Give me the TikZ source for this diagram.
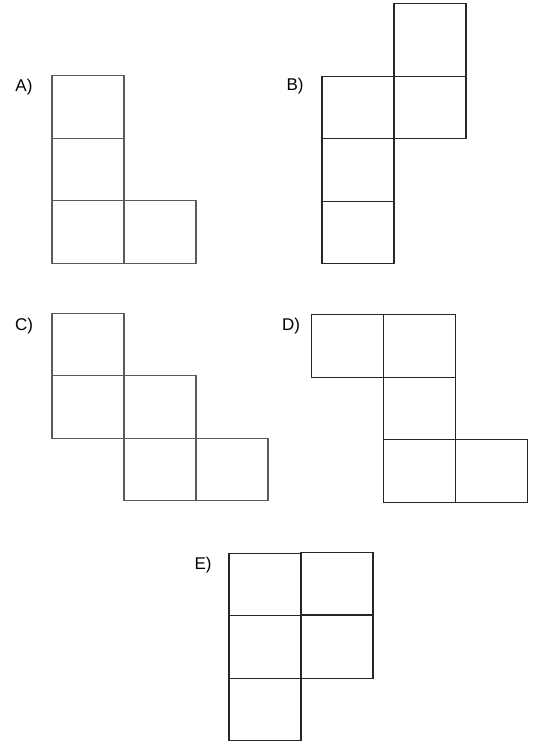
\documentclass[tikz,border=0pt]{standalone}
\usepackage{fontspec}
\setmainfont{Liberation Sans}
\usetikzlibrary{positioning}

\begin{document}
\begin{tikzpicture}[
			x=1pt, y=-1pt,
			node distance=0pt,
			cell/.style={rectangle, draw=black!85, line width=1.4pt, minimum width=72pt, minimum height=62.5pt, inner sep=0pt, outer sep=0pt},
			pale/.style={cell, draw=black!65},
			tag/.style={font=\fontsize{17}{20}\selectfont, inner sep=0pt}
		]
		\useasboundingbox (0,0) rectangle (534,745);

		% A
		\node[tag] (labA) at (24,87) {A)};
		\node[pale] (A1) at (88,107) {};
		\node[pale] (A2) [below=of A1] {};
		\node[pale] (A3) [below=of A2] {};
		\node[pale] (A4) [right=of A3] {};

		% B
		\node[tag] (labB) at (295,86) {B)};
		\node[cell] (B1) at (358,107.5) {};
		\node[cell] (B2) [below=of B1] {};
		\node[cell] (B3) [below=of B2] {};
		\node[cell] (B4) [right=of B1] {};
		\node[cell, minimum height=73pt] (B5) [above=of B4] {};

		% C
		\node[tag] (labC) at (24,326) {C)};
		\node[pale] (C1) at (88,344.5) {};
		\node[pale] (C2) [below=of C1] {};
		\node[pale] (C3) [right=of C2] {};
		\node[pale] (C4) [below=of C3] {};
		\node[pale] (C5) [right=of C4] {};

		% D
		\node[tag] (labD) at (291,326) {D)};
		\node[cell] (D1) at (347.5,346) {};
		\node[cell] (D2) [right=of D1] {};
		\node[cell] (D3) [below=of D2] {};
		\node[cell] (D4) [below=of D3] {};
		\node[cell] (D5) [right=of D4] {};

		% E
		\node[tag] (labE) at (203,565) {E)};
		\node[cell] (E1) at (265,584.5) {};
		\node[cell] (E2) [right=of E1, yshift=1pt] {};
		\node[cell] (E3) [below=of E1] {};
		\node[cell] (E4) [right=of E3] {};
		\node[cell] (E5) [below=of E3] {};
	\end{tikzpicture}
\end{document}
